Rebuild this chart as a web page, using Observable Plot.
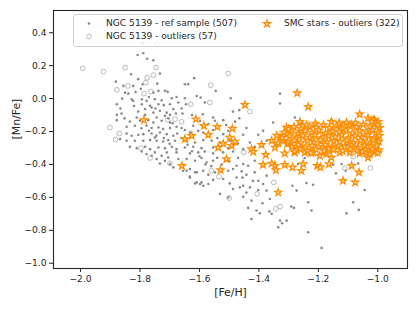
<!DOCTYPE html>
<html><head><meta charset="utf-8">
<script src="https://cdn.jsdelivr.net/npm/d3@7"></script>
<script src="https://cdn.jsdelivr.net/npm/@observablehq/plot@0.6"></script>
<style>
body{margin:0;background:#fff;}
#wrap{position:relative;width:419px;height:314px;font-family:"DejaVu Sans",sans-serif;}
#legend{position:absolute;left:73px;top:14px;width:330px;height:33px;background:rgba(255,255,255,0.8);border:1px solid #d0d0d0;border-radius:3px;box-sizing:border-box;font-size:9.1px;color:#262626;}
.item{position:absolute;white-space:nowrap;line-height:11px;}
.item svg{position:absolute;top:0;}
</style></head><body><div id="wrap"><div id="legend"></div></div>
<script>
// [Fe/H], [Mn/Fe] pairs
const refSample = [
[-1.808,0.265],[-1.789,0.275],[-1.776,0.242],[-1.755,0.233],[-1.792,0.336],[-1.830,0.148],[-1.806,0.118],[-1.733,0.152],
[-1.742,0.091],[-1.881,0.103],[-1.856,0.077],[-1.823,0.077],[-1.791,0.087],[-1.850,0.036],[-1.839,0.030],[-1.738,0.047],
[-1.716,0.047],[-1.707,0.041],[-1.755,0.036],[-1.828,-0.004],[-1.823,-0.014],[-1.794,-0.004],[-1.778,-0.014],[-1.750,-0.004],
[-1.727,-0.010],[-1.693,0.002],[-1.677,0.010],[-1.878,-0.034],[-1.794,-0.034],[-1.766,-0.044],[-1.738,-0.034],[-1.699,-0.034],
[-1.671,-0.024],[-1.806,-0.079],[-1.783,-0.064],[-1.761,-0.054],[-1.733,-0.074],[-1.710,-0.085],[-1.688,-0.064],[-1.878,-0.099],
[-1.862,-0.091],[-1.811,-0.115],[-1.783,-0.099],[-1.755,-0.085],[-1.744,-0.115],[-1.716,-0.105],[-1.699,-0.099],[-1.679,-0.091],
[-1.878,-0.131],[-1.834,-0.139],[-1.800,-0.135],[-1.772,-0.131],[-1.755,-0.145],[-1.727,-0.135],[-1.699,-0.145],[-1.845,-0.171],
[-1.817,-0.165],[-1.778,-0.165],[-1.761,-0.179],[-1.738,-0.176],[-1.722,-0.185],[-1.699,-0.179],[-1.677,-0.171],[-1.845,-0.212],
[-1.828,-0.226],[-1.806,-0.220],[-1.789,-0.216],[-1.761,-0.212],[-1.750,-0.236],[-1.733,-0.206],[-1.710,-0.216],[-1.688,-0.226],
[-1.675,-0.212],[-1.867,-0.246],[-1.845,-0.256],[-1.817,-0.256],[-1.789,-0.256],[-1.766,-0.252],[-1.744,-0.256],[-1.722,-0.261],
[-1.705,-0.252],[-1.682,-0.256],[-1.834,-0.293],[-1.811,-0.301],[-1.783,-0.293],[-1.766,-0.307],[-1.738,-0.297],[-1.716,-0.301],
[-1.693,-0.293],[-1.677,-0.307],[-1.794,-0.321],[-1.778,-0.337],[-1.761,-0.347],[-1.744,-0.367],[-1.727,-0.347],[-1.710,-0.327],
[-1.716,-0.378],[-1.699,-0.397],[-1.688,-0.418],[-1.677,-0.327],[-1.671,-0.367],[-1.750,-0.327],[-1.733,-0.394],[-1.705,-0.358],
[-1.643,-0.438],[-1.632,-0.479],[-1.609,-0.509],[-1.598,-0.519],[-1.615,-0.448],[-1.587,-0.529],
[-1.618,0.124],[-1.649,0.087],[-1.638,0.087],[-1.545,0.047],[-1.609,0.016],[-1.596,0.006],[-1.649,0.002],[-1.582,-0.024],
[-1.645,-0.034],[-1.495,0.002],[-1.329,0.030],[-1.329,-0.030],[-1.487,-0.079],[-1.466,-0.070],[-1.466,-0.119],[-1.520,-0.131],
[-1.554,-0.115],[-1.548,-0.135],[-1.589,-0.095],[-1.657,-0.091],[-1.598,-0.135],[-1.570,-0.155],[-1.621,-0.165],[-1.660,-0.179],
[-1.649,-0.191],[-1.632,-0.206],[-1.604,-0.196],[-1.587,-0.206],[-1.554,-0.191],[-1.520,-0.216],[-1.503,-0.196],[-1.442,-0.179],
[-1.453,-0.220],[-1.402,-0.220],[-1.374,-0.256],[-1.386,-0.196],[-1.352,-0.145],[-1.643,-0.256],[-1.615,-0.267],[-1.587,-0.252],
[-1.559,-0.256],[-1.531,-0.267],[-1.498,-0.256],[-1.470,-0.273],[-1.430,-0.267],[-1.649,-0.297],[-1.621,-0.293],[-1.593,-0.301],
[-1.554,-0.297],[-1.503,-0.301],[-1.453,-0.307],[-1.414,-0.293],
[-1.632,-0.333],[-1.604,-0.327],[-1.582,-0.321],[-1.554,-0.333],[-1.520,-0.327],[-1.487,-0.321],[-1.643,-0.367],[-1.615,-0.378],
[-1.593,-0.361],[-1.576,-0.388],[-1.554,-0.378],[-1.475,-0.408],[-1.453,-0.397],[-1.436,-0.408],[-1.414,-0.378],[-1.655,-0.438],
[-1.632,-0.428],[-1.609,-0.448],[-1.587,-0.438],[-1.570,-0.462],[-1.548,-0.448],[-1.503,-0.438],[-1.487,-0.428],[-1.458,-0.442],
[-1.442,-0.462],[-1.414,-0.448],[-1.374,-0.468],[-1.632,-0.474],[-1.615,-0.515],[-1.593,-0.509],[-1.570,-0.519],[-1.554,-0.494],
[-1.520,-0.488],[-1.498,-0.515],[-1.475,-0.479],[-1.453,-0.529],[-1.430,-0.539],[-1.402,-0.499],[-1.386,-0.519],[-1.531,-0.579],
[-1.487,-0.549],[-1.464,-0.539],[-1.442,-0.570],[-1.402,-0.555],[-1.374,-0.559],[-1.503,-0.600],[-1.453,-0.596],[-1.425,-0.620],
[-1.388,-0.636],[-1.363,-0.610],[-1.436,-0.664],[-1.408,-0.680],[-1.397,-0.697],[-1.357,-0.700],[-1.329,-0.741],[-1.425,-0.731],
[-1.335,-0.782],[-1.307,-0.741],[-1.365,-0.685],[-1.322,-0.757],
[-1.279,-0.115],[-1.136,-0.200],[-1.251,-0.236],[-1.100,-0.236],[-1.159,-0.250],[-1.002,-0.246],[-1.276,-0.256],[-1.193,-0.267],
[-1.002,-0.273],[-1.105,-0.281],[-1.253,-0.293],[-1.193,-0.301],[-1.164,-0.307],
[-1.240,-0.513],[-1.218,-0.523],[-1.287,-0.529],[-1.273,-0.559],[-1.141,-0.454],[-1.108,-0.438],[-1.066,-0.394],[-1.044,-0.555],
[-1.234,-0.630],[-1.223,-0.680],[-1.083,-0.630],[-1.105,-0.697],[-1.064,-0.676],[-1.234,-0.812],[-1.189,-0.907],[-1.291,-0.656],
[-1.282,-0.664],[-1.150,-0.402],[-1.122,-0.397],[-1.268,-0.397],[-1.246,-0.361],
[-1.860,0.000],[-1.866,-0.060],[-1.852,-0.120],[-1.820,-0.045],[-1.815,0.040],[-1.797,0.060],[-1.770,0.010],[-1.748,-0.060],
[-1.720,-0.040],[-1.705,-0.120],[-1.690,-0.150],[-1.795,-0.180],[-1.770,-0.195],[-1.745,-0.225],[-1.720,-0.240],[-1.700,-0.275],
[-1.660,-0.240],[-1.640,-0.280],[-1.625,-0.320],[-1.600,-0.350],[-1.580,-0.400],[-1.560,-0.410],[-1.540,-0.360],[-1.525,-0.400],
[-1.500,-0.380],[-1.470,-0.360],[-1.455,-0.480],[-1.420,-0.500],[-1.540,-0.240],[-1.510,-0.160],[-1.480,-0.140],[-1.625,-0.100],
[-1.660,-0.060]
];
const refOutliers = [
[-1.993,0.184],[-1.923,0.164],[-1.850,0.188],[-1.746,0.188],[-1.776,0.127],[-1.755,0.142],[-1.780,0.097],[-1.841,0.077],
[-1.878,0.053],[-1.763,0.042],[-1.787,0.030],[-1.707,-0.129],[-1.682,-0.125],[-1.901,-0.176],[-1.870,-0.212],[-1.882,-0.248],
[-1.797,-0.301],[-1.766,-0.361],[-1.699,-0.394],[-1.742,0.336],[-1.503,0.152],[-1.562,0.081],[-1.629,-0.034],[-1.565,-0.024],
[-1.430,-0.079],[-1.660,-0.141],[-1.451,-0.327],[-1.559,-0.438],[-1.534,-0.474],[-1.350,-0.509],[-1.406,-0.579],[-1.500,-0.604],
[-1.343,-0.670],[-1.329,-0.656],[-1.111,-0.422],[-1.083,-0.353],[-1.025,-0.422]
];
const smcStars = [
[-1.659,-0.408],[-1.787,-0.131],[-1.447,-0.038],[-1.612,-0.125],[-1.585,-0.165],[-1.540,-0.171],[-1.489,-0.182],[-1.649,-0.246],
[-1.626,-0.226],[-1.570,-0.220],[-1.498,-0.236],[-1.481,-0.261],[-1.520,-0.273],[-1.537,-0.297],[-1.492,-0.287],[-1.391,-0.281],
[-1.357,-0.256],[-1.346,-0.297],[-1.329,-0.236],[-1.307,-0.176],[-1.305,-0.216],[-1.318,-0.256],[-1.305,-0.276],[-1.425,-0.307],
[-1.509,-0.367],[-1.529,-0.434],[-1.419,-0.323],[-1.377,-0.341],[-1.386,-0.402],[-1.346,-0.408],[-1.343,-0.434],[-1.313,-0.402],
[-1.313,-0.333],[-1.335,-0.570],[-1.357,-0.394],
[-1.271,0.033],[-1.234,-0.050],[-1.061,-0.095],[-1.033,-0.119],[-1.010,-0.131],[-1.262,-0.141],[-1.253,-0.165],[-1.210,-0.151],
[-1.156,-0.139],[-1.128,-0.155],[-1.088,-0.159],[-1.016,-0.131],[-0.999,-0.141],
[-1.287,-0.418],[-1.257,-0.438],[-1.251,-0.397],[-1.204,-0.408],[-1.193,-0.418],[-1.164,-0.397],[-1.088,-0.408],[-1.063,-0.448],
[-1.117,-0.499],[-1.076,-0.509],[-1.033,-0.358],[-1.027,-0.337],[-1.279,-0.327],[-1.246,-0.327],[-1.218,-0.327],[-1.195,-0.347],
[-1.173,-0.337],[-1.156,-0.358],[-1.128,-0.327],[-1.094,-0.327],[-1.061,-0.333],[-1.038,-0.327],[-1.010,-0.323],
[-1.282,-0.172],[-1.258,-0.183],[-1.231,-0.168],[-1.207,-0.176],[-1.183,-0.161],[-1.162,-0.178],[-1.139,-0.166],[-1.118,-0.181],
[-1.096,-0.163],[-1.071,-0.172],[-1.049,-0.158],[-1.027,-0.169],[-1.008,-0.155],[-0.994,-0.178],
[-1.315,-0.205],[-1.291,-0.198],[-1.268,-0.212],[-1.244,-0.195],[-1.222,-0.207],[-1.198,-0.193],[-1.176,-0.211],[-1.152,-0.199],
[-1.129,-0.204],[-1.107,-0.192],[-1.085,-0.209],[-1.061,-0.196],[-1.039,-0.203],[-1.018,-0.191],[-0.998,-0.207],
[-1.322,-0.238],[-1.297,-0.228],[-1.275,-0.241],[-1.252,-0.224],[-1.229,-0.236],[-1.211,-0.222],[-1.187,-0.239],[-1.165,-0.226],
[-1.143,-0.233],[-1.121,-0.221],[-1.099,-0.241],[-1.076,-0.227],[-1.054,-0.235],[-1.033,-0.222],[-1.012,-0.238],[-0.995,-0.226],
[-1.302,-0.262],[-1.281,-0.254],[-1.259,-0.268],[-1.236,-0.257],[-1.214,-0.265],[-1.193,-0.251],[-1.171,-0.266],[-1.148,-0.258],
[-1.127,-0.262],[-1.104,-0.253],[-1.082,-0.269],[-1.058,-0.256],[-1.036,-0.264],[-1.015,-0.252],[-0.997,-0.261],
[-1.289,-0.291],[-1.266,-0.283],[-1.243,-0.296],[-1.221,-0.286],[-1.199,-0.293],[-1.177,-0.281],[-1.154,-0.297],[-1.133,-0.288],
[-1.111,-0.294],[-1.089,-0.282],[-1.067,-0.298],[-1.045,-0.285],[-1.023,-0.292],[-1.003,-0.284],
[-1.272,-0.312],[-1.237,-0.318],[-1.208,-0.309],[-1.181,-0.316],[-1.149,-0.311],[-1.118,-0.318],[-1.092,-0.308],[-1.069,-0.315],
[-1.041,-0.311],[-1.019,-0.306],[-0.996,-0.313],
[-1.262,-0.305],[-1.165,-0.305],[-1.075,-0.148],[-1.105,-0.145],[-1.020,-0.140],[-1.000,-0.160],[-1.130,-0.150],[-1.240,-0.160],
[-1.300,-0.185],[-1.335,-0.270],[-1.340,-0.225],[-1.280,-0.320],[-1.052,-0.325],[-1.000,-0.330],[-1.225,-0.330]
];
const xTicks = [-2.0, -1.8, -1.6, -1.4, -1.2, -1.0];
const yTicks = [-1.0, -0.8, -0.6, -0.4, -0.2, 0.0, 0.2, 0.4];
const legendLabels = ["NGC 5139 - ref sample (507)", "NGC 5139 - outliers (57)", "SMC stars - outliers (322)"];
const xLabel = "[Fe/H]", yLabel = "[Mn/Fe]";

const ink = "#262626";
const grayDot = "#8a8a8a", grayRing = "#a8a8a8", orange = "#ff8c00", starFill = "#ffdcaa";

const chart = Plot.plot({
  width: 419, height: 314,
  marginLeft: 53, marginRight: 12, marginTop: 10, marginBottom: 46,
  style: {fontFamily: "DejaVu Sans", fontSize: "9.1px", color: ink, background: "#fff", overflow: "visible"},
  x: {domain: [-2.091, -0.90]},
  y: {domain: [-1.032, 0.535]},
  marks: [
    Plot.dot(refSample, {x: d => d[0], y: d => d[1], r: 1.3, fill: grayDot, stroke: "none"}),
    Plot.dot(refOutliers, {x: d => d[0], y: d => d[1], r: 2.4, fill: "none", stroke: grayRing, strokeWidth: 0.8}),
    Plot.dot(smcStars, {x: d => d[0], y: d => d[1], symbol: "star", r: 2.3, fill: starFill, stroke: orange, strokeWidth: 1.2}),
    Plot.axisX({ticks: xTicks, tickFormat: ".1f", tickSize: 4, tickPadding: 3, label: null, stroke: ink, fill: ink}),
    Plot.axisY({ticks: yTicks, tickFormat: ".1f", tickSize: 4, tickPadding: 3, label: null, stroke: ink, fill: ink}),
    Plot.frame({stroke: ink, strokeWidth: 1.1}),
    Plot.text([xLabel], {frameAnchor: "bottom", dy: 27, text: d => d, fontSize: 10.9, fill: ink}),
    Plot.text([yLabel], {frameAnchor: "left", dx: -37, rotate: -90, text: d => d, fontSize: 10.9, fill: ink})
  ]
});
document.getElementById("wrap").insertBefore(chart, document.getElementById("legend"));

// legend overlay
const legend = document.getElementById("legend");
const items = [
  {label: legendLabels[0], x: 9, y: 3, sym: "dot"},
  {label: legendLabels[1], x: 9, y: 16, sym: "ring"},
  {label: legendLabels[2], x: 187, y: 3, sym: "star"}
];
for (const it of items) {
  const div = document.createElement("div");
  div.className = "item";
  div.style.left = it.x + "px";
  div.style.top = it.y + "px";
  let shape;
  if (it.sym === "dot") shape = `<circle cx="6" cy="5.5" r="1.3" fill="${grayDot}"/>`;
  else if (it.sym === "ring") shape = `<circle cx="6" cy="5.5" r="2.4" fill="none" stroke="${grayRing}" stroke-width="0.8"/>`;
  else shape = `<path transform="translate(6,5.8)" d="${d3.symbol(d3.symbolStar, Math.PI * 2.3 * 2.3)()}" fill="${starFill}" stroke="${orange}" stroke-width="1.2"/>`;
  div.innerHTML = `<svg width="12" height="11" style="left:0">${shape}</svg><span style="position:absolute;left:23px;top:0">${it.label}</span>`;
  legend.appendChild(div);
}
</script>
</body></html>
